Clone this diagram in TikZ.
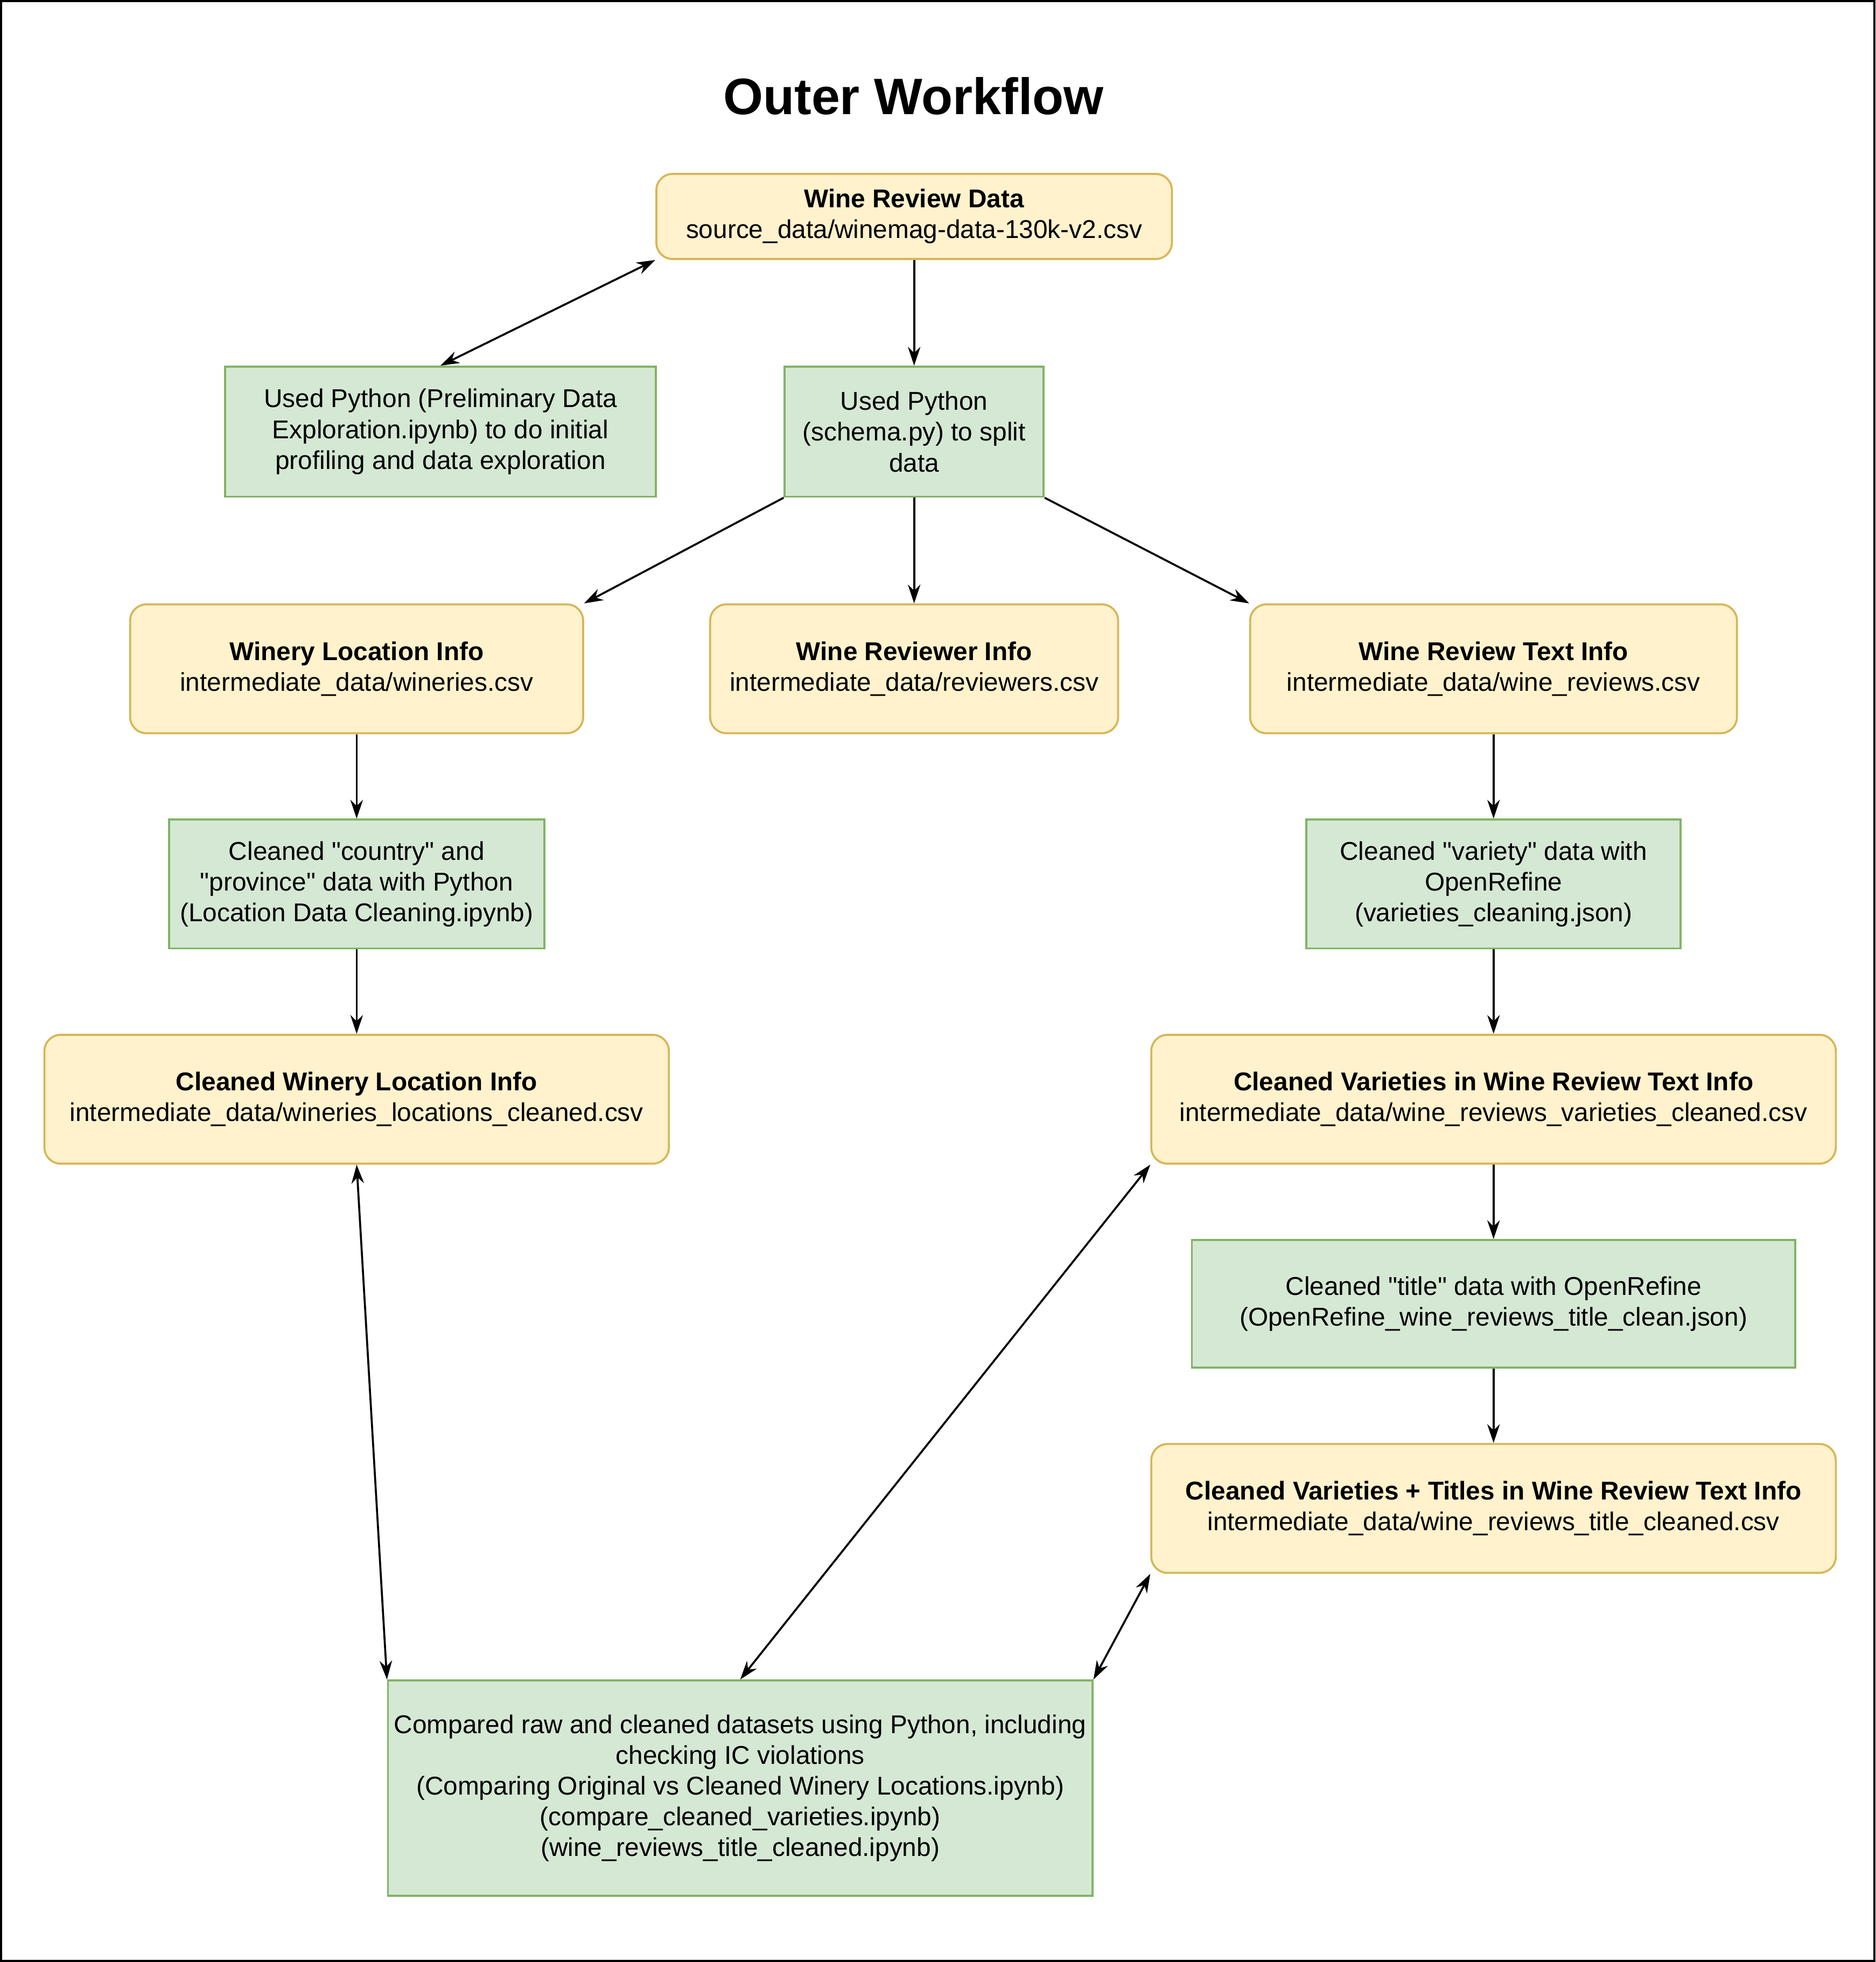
\documentclass[tikz,border=0pt]{standalone}
\usepackage{fontspec}
\setmainfont{Liberation Sans}
\usepackage{tikz}
\usetikzlibrary{arrows.meta}
\definecolor{dataFill}{HTML}{FFF2CC}
\definecolor{dataLine}{HTML}{D6B656}
\definecolor{stepFill}{HTML}{D5E8D4}
\definecolor{stepLine}{HTML}{82B366}
\newcommand{\qt}{\textquotedbl}
\tikzset{
  databox/.style={draw=dataLine, fill=dataFill, line width=0.9pt, rounded corners=0.26cm, align=center, inner sep=0pt},
  stepbox/.style={draw=stepLine, fill=stepFill, line width=0.9pt, align=center, inner sep=0pt},
  flow/.style={-{Stealth[length=0.3cm, width=0.2cm]}, line width=0.9pt},
  both/.style={{Stealth[length=0.3cm, width=0.2cm]}-{Stealth[length=0.3cm, width=0.2cm]}, line width=0.9pt}
}
\begin{document}
\begin{tikzpicture}[font=\fontsize{11.7}{14}\selectfont]
				\useasboundingbox (0, 0) rectangle (29.98, -31.36);
				\draw[line width=1pt] (0.02, -0.02) rectangle (29.96, -31.34);
				\node (heading) at (14.60, -1.54) {\fontsize{23.3}{28}\selectfont\bfseries Outer Workflow};
				% source data and the first two steps
				\node[databox, minimum width=8.24cm, minimum height=1.36cm] (source) at (14.61, -3.46) {\textbf{Wine Review Data}\\source\_data/winemag-data-130k-v2.csv};
				\node[stepbox, minimum width=6.88cm, minimum height=2.08cm] (explore) at (7.04, -6.90) {Used Python (Preliminary Data\\Exploration.ipynb) to do initial\\profiling and data exploration};
				\node[stepbox, minimum width=4.14cm, minimum height=2.08cm] (split) at (14.61, -6.90) {Used Python\\(schema.py) to split\\data};
				% split tables
				\node[databox, minimum width=7.24cm, minimum height=2.06cm] (wineries) at (5.70, -10.69) {\textbf{Winery Location Info}\\intermediate\_data/wineries.csv};
				\node[databox, minimum width=6.52cm, minimum height=2.06cm] (reviewers) at (14.61, -10.69) {\textbf{Wine Reviewer Info}\\intermediate\_data/reviewers.csv};
				\node[databox, minimum width=7.78cm, minimum height=2.06cm] (reviews) at (23.87, -10.69) {\textbf{Wine Review Text Info}\\intermediate\_data/wine\_reviews.csv};
				% cleaning steps
				\node[stepbox, minimum width=6.00cm, minimum height=2.06cm] (cleanloc) at (5.70, -14.13) {Cleaned \qt{}country\qt{} and\\\qt{}province\qt{} data with Python\\(Location Data Cleaning.ipynb)};
				\node[stepbox, minimum width=5.98cm, minimum height=2.06cm] (cleanvar) at (23.87, -14.13) {Cleaned \qt{}variety\qt{} data with\\OpenRefine\\(varieties\_cleaning.json)};
				\node[databox, minimum width=9.98cm, minimum height=2.06cm] (locclean) at (5.70, -17.57) {\textbf{Cleaned Winery Location Info}\\intermediate\_data/wineries\_locations\_cleaned.csv};
				\node[databox, minimum width=10.94cm, minimum height=2.06cm] (varclean) at (23.87, -17.57) {\textbf{Cleaned Varieties in Wine Review Text Info}\\intermediate\_data/wine\_reviews\_varieties\_cleaned.csv};
				\node[stepbox, minimum width=9.64cm, minimum height=2.04cm] (cleantitle) at (23.87, -20.84) {Cleaned \qt{}title\qt{} data with OpenRefine\\(OpenRefine\_wine\_reviews\_title\_clean.json)};
				\node[databox, minimum width=10.94cm, minimum height=2.06cm] (titleclean) at (23.87, -24.11) {\textbf{Cleaned Varieties + Titles in Wine Review Text Info}\\intermediate\_data/wine\_reviews\_title\_cleaned.csv};
				% comparison step
				\node[stepbox, minimum width=11.26cm, minimum height=3.44cm] (compare) at (11.83, -28.58) {Compared raw and cleaned datasets using Python, including\\checking IC violations\\(Comparing Original vs Cleaned Winery Locations.ipynb)\\(compare\_cleaned\_varieties.ipynb)\\(wine\_reviews\_title\_cleaned.ipynb)};
				% connectors
				\draw[flow] (source) -- (split);
				\draw[both] (source.south west) -- (explore.north);
				\draw[flow] (split.south west) -- (wineries.north east);
				\draw[flow] (split) -- (reviewers);
				\draw[flow] (split.south east) -- (reviews.north west);
				\draw[flow] (wineries) -- (cleanloc);
				\draw[flow] (cleanloc) -- (locclean);
				\draw[flow] (reviews) -- (cleanvar);
				\draw[flow] (cleanvar) -- (varclean);
				\draw[flow] (varclean) -- (cleantitle);
				\draw[flow] (cleantitle) -- (titleclean);
				\draw[both] (locclean.south) -- (compare.north west);
				\draw[both] (varclean.south west) -- (compare.north);
				\draw[both] (titleclean.south west) -- (compare.north east);
			\end{tikzpicture}
\end{document}
